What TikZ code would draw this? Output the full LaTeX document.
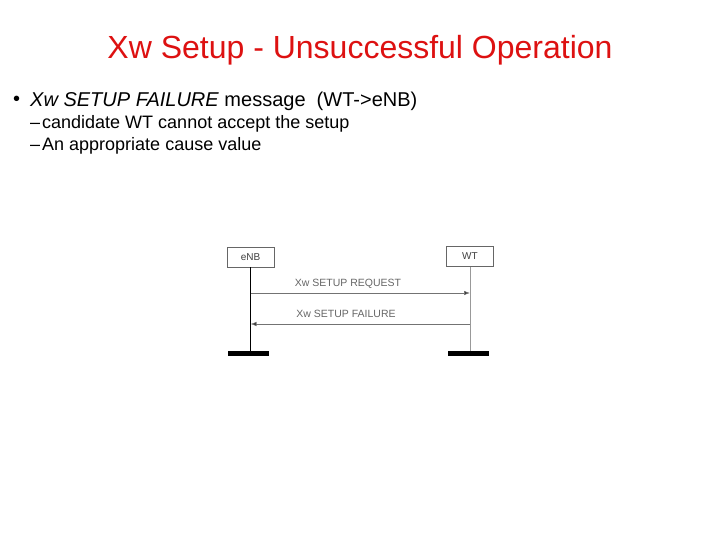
\documentclass[tikz,border=0pt]{standalone}
\usepackage{fontspec}
\setmainfont{Liberation Sans}
\usetikzlibrary{arrows.meta}
\definecolor{titlered}{RGB}{221,17,17}
\begin{document}
\begin{tikzpicture}[x=1pt,y=-1pt,
  ent/.style={draw=black!60,line width=0.5pt,minimum width=47pt,minimum height=20pt,inner sep=0pt,font=\fontsize{10}{11}\selectfont,text=black!75},
  msg/.style={draw=black!55,line width=0.6pt,-{Latex[length=6pt,width=4.5pt,fill=black!80]}},
  mlabel/.style={font=\fontsize{10.5}{11}\selectfont,text=black!60,inner sep=0pt},
  bar/.style={fill=black,draw=none,minimum width=41pt,minimum height=5pt,inner sep=0pt},
  lvl1/.style={anchor=west,font=\fontsize{20}{23}\selectfont,inner sep=0pt},
  lvl2/.style={anchor=west,font=\fontsize{18}{21}\selectfont,inner sep=0pt}]
\useasboundingbox (0,0) rectangle (720,540);
\node[text=titlered,font=\fontsize{32}{36}\selectfont] (title) at (360,50) {Xw Setup - Unsuccessful Operation};
\node[lvl1] (dot) at (13,101) {\textbullet};
\node[lvl1] (b1) at (30,101) {\textit{Xw SETUP FAILURE} message\ \ (WT->eNB)};
\node[lvl2] (s1) at (30,124) {–\kern2pt candidate WT cannot accept the setup};
\node[lvl2] (s2) at (30,146) {–\kern2pt An appropriate cause value};
\node[ent] (enb) at (250.5,257) {eNB};
\node[ent] (wt) at (470,256.5) {WT};
\node[bar] (benb) at (248.5,353.5) {};
\node[bar] (bwt) at (468,353.5) {};
\draw[line width=0.8pt,black] (enb.south) -- (enb.south |- benb.north);
\draw[line width=0.5pt,black!40] (wt.south) -- (wt.south |- bwt.north);
\coordinate (r1) at (250.5,293);
\coordinate (r2) at (470,293);
\coordinate (f1) at (470,324);
\coordinate (f2) at (250.5,324);
\draw[msg] (r1) -- (r2);
\draw[msg] (f1) -- (f2);
\node[mlabel] (lr) at (348,284) {Xw SETUP REQUEST};
\node[mlabel] (lf) at (346,314) {Xw SETUP FAILURE};
\end{tikzpicture}
\end{document}
